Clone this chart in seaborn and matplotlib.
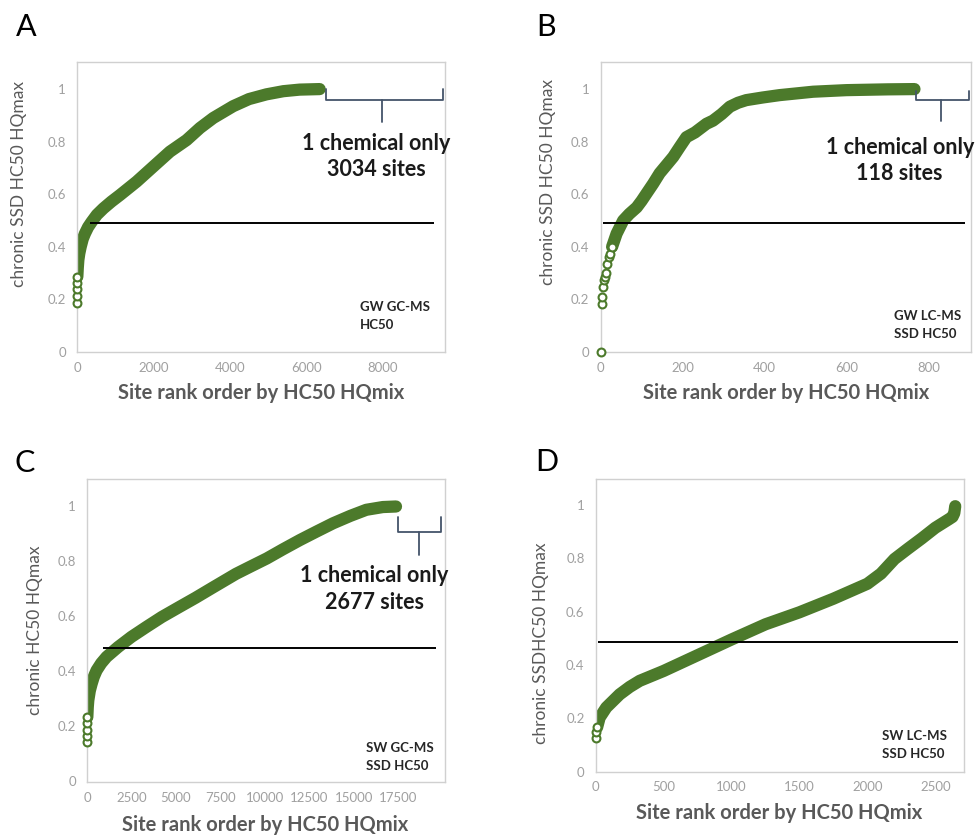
import matplotlib
matplotlib.use("Agg")
import matplotlib.pyplot as plt
import seaborn as sns
import numpy as np
import pandas as pd
from matplotlib.ticker import FuncFormatter

# ---------------- data ----------------
# Panel A: GW GC-MS HC50
a_x = [0, 2, 4, 6, 8, 20, 35, 60, 96, 150, 209, 290, 383, 520, 689, 900, 1124,
       1560, 1995, 2431, 2867, 3217, 3564, 4087, 4500, 4957, 5400, 5826, 6350]
a_y = [0.187, 0.212, 0.238, 0.262, 0.286, 0.32, 0.35, 0.375, 0.40, 0.43, 0.451,
       0.475, 0.495, 0.522, 0.546, 0.572, 0.597, 0.648, 0.705, 0.762, 0.806,
       0.852, 0.89, 0.935, 0.962, 0.98, 0.992, 0.998, 1.0]
# Panel B: GW LC-MS SSD HC50
b_x = [0, 3, 4, 6, 8, 10, 13, 16, 20, 24, 28, 39, 55, 70, 88, 100, 112, 128,
       144, 160, 177, 193, 209, 230, 258, 274, 295, 315, 335, 355, 395, 436,
       518, 599, 700, 765]
b_y = [0.0, 0.184, 0.21, 0.247, 0.275, 0.286, 0.30, 0.336, 0.36, 0.374, 0.40,
       0.45, 0.50, 0.525, 0.55, 0.575, 0.603, 0.64, 0.68, 0.71, 0.742, 0.78,
       0.817, 0.835, 0.868, 0.88, 0.905, 0.933, 0.948, 0.958, 0.968, 0.977,
       0.99, 0.996, 0.999, 1.0]
# Panel C: SW GC-MS SSD HC50
c_x = [0, 5, 10, 15, 20, 45, 75, 160, 261, 380, 540, 800, 1100, 1750, 2500,
       3338, 4200, 5200, 6100, 7060, 8370, 9200, 10100, 11000, 11963, 12900,
       13826, 14800, 15690, 16621, 17360]
c_y = [0.142, 0.165, 0.188, 0.211, 0.234, 0.27, 0.295, 0.33, 0.355, 0.38,
       0.404, 0.43, 0.453, 0.489, 0.526, 0.562, 0.598, 0.635, 0.668, 0.705,
       0.755, 0.782, 0.811, 0.844, 0.878, 0.909, 0.939, 0.966, 0.988, 0.998,
       1.0]
# Panel D: SW LC-MS SSD HC50
d_x = [0, 5, 10, 29, 78, 176, 250, 324, 500, 750, 1000, 1250, 1500, 1750,
       2000, 2100, 2200, 2300, 2400, 2500, 2600, 2627, 2640, 2647]
d_y = [0.128, 0.15, 0.166, 0.203, 0.241, 0.29, 0.318, 0.341, 0.378, 0.437,
       0.496, 0.553, 0.598, 0.649, 0.705, 0.743, 0.798, 0.837, 0.875, 0.915,
       0.947, 0.956, 0.97, 0.996]

panel_letters = ["A", "B", "C", "D"]
y_labels = ["chronic SSD HC50 HQmax", "chronic SSD HC50 HQmax",
            "chronic HC50 HQmax", "chronic SSDHC50 HQmax"]
x_label = "Site rank order by HC50 HQmix"
method_labels = ["GW GC-MS\nHC50", "GW LC-MS\nSSD HC50",
                 "SW GC-MS\nSSD HC50", "SW LC-MS\nSSD HC50"]
only_one_labels = ["1 chemical only\n3034 sites", "1 chemical only\n118 sites",
                   "1 chemical only\n2677 sites", None]
threshold = [0.49, 0.49, 0.485, 0.488]
threshold_x = [(348, 9350), (5, 889), (876, 19590), (17, 2669)]
x_ticks = [[0, 2000, 4000, 6000, 8000], [0, 200, 400, 600, 800],
           [0, 2500, 5000, 7500, 10000, 12500, 15000, 17500],
           [0, 500, 1000, 1500, 2000, 2500]]
y_ticks = [0, 0.2, 0.4, 0.6, 0.8, 1.0]

# ---------------- style ----------------
sns.set_style("white")
plt.rcParams["font.family"] = ["Lato", "DejaVu Sans"]

GREEN = "#4c7a2b"
BRACE = "#44546a"
TICK = "#a0a0a0"
LABEL = "#595959"
SPINE = "#d0d0d0"

fig = plt.figure(figsize=(9.75, 8.38), dpi=100)

axes_pos = [
    [0.079, 0.580, 0.377, 0.346],
    [0.616, 0.580, 0.380, 0.346],
    [0.0892, 0.0668, 0.3668, 0.3616],
    [0.611, 0.0791, 0.3775, 0.3493],
]
xlims = [(0, 9620), (0, 903), (0, 20090), (0, 2710)]
ylims = [(0, 1.103), (0, 1.103), (-0.002, 1.1), (0, 1.098)]
n_sparse = [5, 11, 5, 3]
series = [(a_x, a_y), (b_x, b_y), (c_x, c_y), (d_x, d_y)]
ylab_coords = [(-0.158, 0.579), (-0.142, 0.586), (-0.145, 0.50), (-0.148, 0.44)]
xlab_coords = [(0.5, -0.141), (0.4995, -0.141), (0.4986, -0.142), (0.4986, -0.14)]
letter_px = [(26, 27), (546, 27), (25, 463), (547, 462)]
# annotation placement (data coords)
only_pos = [(7826, 0.745), (729, 0.73), (16158, 0.70), None]
method_pos = [(7409, 0.137), (716, 0.103), (15692, 0.088), (2105, 0.101)]
# braces: left, right, top, mid, center, bottom
braces = [(6520, 9591, 1.0, 0.958, 7974, 0.876),
          (769, 899, 0.994, 0.958, 830, 0.879),
          (17500, 19904, 0.961, 0.909, 18674, 0.824),
          None]

W, H = 975, 838
for i in range(4):
    ax = fig.add_axes(axes_pos[i])
    xs, ys = series[i]
    df = pd.DataFrame({"rank": xs, "hq": ys})
    k = n_sparse[i]
    dense = df.iloc[k - 1:]
    sparse = df.iloc[:k]
    sns.lineplot(data=dense, x="rank", y="hq", ax=ax, color=GREEN,
                 linewidth=8.8, sort=False, estimator=None)
    for ln in ax.lines:
        ln.set_solid_capstyle("round")
        ln.set_solid_joinstyle("round")
    sns.scatterplot(data=sparse, x="rank", y="hq", ax=ax, marker="o", s=32,
                    facecolor="white", edgecolor=GREEN, linewidth=1.5,
                    zorder=3, clip_on=False)
    ax.hlines(threshold[i], threshold_x[i][0], threshold_x[i][1],
              color="black", linewidth=1.4, zorder=4)

    ax.set_xlim(*xlims[i])
    ax.set_ylim(*ylims[i])
    ax.set_xticks(x_ticks[i])
    ax.set_yticks(y_ticks)
    ax.xaxis.set_major_formatter(FuncFormatter(lambda v, p: f"{v:g}"))
    ax.yaxis.set_major_formatter(FuncFormatter(lambda v, p: f"{v:g}"))
    ax.tick_params(axis="both", length=0, labelsize=9.5, labelcolor=TICK)
    ax.tick_params(axis="y", pad=8)
    ax.tick_params(axis="x", pad=7)
    for sp in ax.spines.values():
        sp.set_visible(True)
        sp.set_color(SPINE)
        sp.set_linewidth(1.0)

    ax.set_ylabel(y_labels[i], fontsize=12.5, color=LABEL)
    ax.yaxis.label.set_va("center")
    ax.yaxis.set_label_coords(*ylab_coords[i])
    ax.set_xlabel(x_label, fontsize=14.5, fontweight="bold", color=LABEL)
    ax.xaxis.label.set_va("center")
    ax.xaxis.set_label_coords(*xlab_coords[i])

    mx, my = method_pos[i]
    ax.text(mx, my, method_labels[i], fontsize=9.5, fontweight="bold",
            color="#262626", ha="left", va="center", linespacing=1.6)
    if only_one_labels[i]:
        ox, oy = only_pos[i]
        ax.text(ox, oy, only_one_labels[i], fontsize=15.5, fontweight="bold",
                color="#1a1a1a", ha="center", va="center", linespacing=1.3)
    if braces[i]:
        L, R, T, M, C, B = braces[i]
        ax.plot([L, L, R, R], [T, M, M, T], color=BRACE, linewidth=1.3,
                clip_on=False, zorder=5)
        ax.plot([C, C], [M, B], color=BRACE, linewidth=1.3, clip_on=False,
                zorder=5)

    lx, ly = letter_px[i]
    fig.text(lx / W, 1 - ly / H, panel_letters[i], fontsize=22,
             ha="center", va="center", color="black")

fig.savefig("out.png", dpi=100)
